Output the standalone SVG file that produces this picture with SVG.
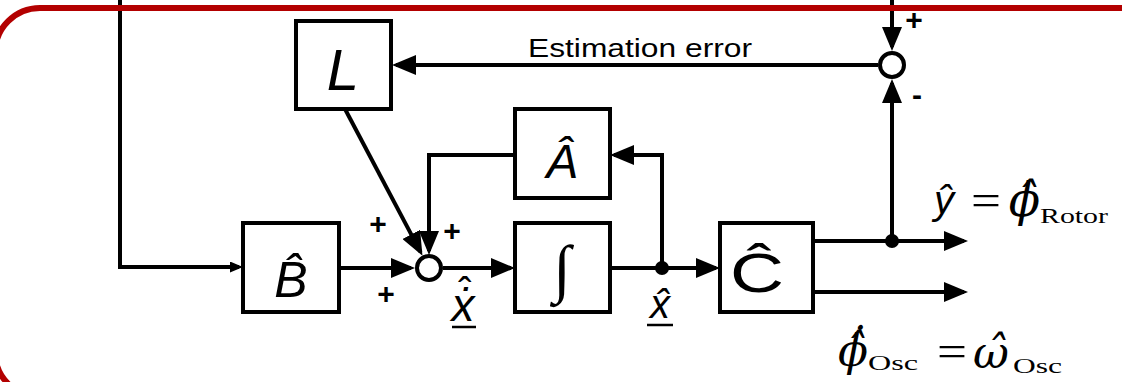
<svg xmlns="http://www.w3.org/2000/svg" width="1122" height="382" viewBox="0 0 1122 382">
  <defs>
    <marker id="arrow" markerUnits="userSpaceOnUse" markerWidth="24" markerHeight="20" refX="20" refY="10" orient="auto">
      <path d="M0,0 L24,10 L0,20 z" fill="#000"/>
    </marker>
    <marker id="arrow-small" markerUnits="userSpaceOnUse" markerWidth="13" markerHeight="11" refX="9" refY="5.5" orient="auto">
      <path d="M0,0 L13,5.5 L0,11 z" fill="#000"/>
    </marker>
  </defs>
  <style>
    .wire { fill: none; stroke: #000; stroke-width: 4; }
    .box { fill: #fff; stroke: #000; stroke-width: 4; }
    .sum { fill: #fff; stroke: #000; stroke-width: 4; }
    .dot { fill: #000; }
    .sans { font-family: "Liberation Sans", Arial, sans-serif; fill: #000; }
    .serif { font-family: "Liberation Serif", "DejaVu Serif", serif; fill: #000; }
    .greek { font-family: "DejaVu Serif", "Liberation Serif", serif; font-style: italic; fill: #000; }
    .ital { font-style: italic; }
    .hat { font-family: "Liberation Sans", Arial, sans-serif; font-style: normal; font-size: 40px; fill: #000; }
    .sign { font-family: "Liberation Sans", Arial, sans-serif; font-weight: bold; font-size: 30px; fill: #000; }
    .ul { stroke: #000; stroke-width: 2.5; }
  </style>

  <rect width="1122" height="382" fill="#fff"/>

  <!-- connectors -->
  <g id="connectors">
    <path class="wire" d="M120,0 V267 H239" marker-end="url(#arrow-small)"/>
    <path class="wire" d="M339,268 H411" marker-end="url(#arrow)"/>
    <path class="wire" d="M443,268 H511" marker-end="url(#arrow)"/>
    <path class="wire" d="M610,268 H716" marker-end="url(#arrow)"/>
    <path class="wire" d="M662,268 V155 H614" marker-end="url(#arrow)"/>
    <path class="wire" d="M515,155 H429 V251" marker-end="url(#arrow)"/>
    <path class="wire" d="M345,109 L420.6,252.1" marker-end="url(#arrow)"/>
    <path class="wire" d="M813,241 H964" marker-end="url(#arrow)"/>
    <path class="wire" d="M813,292 H964" marker-end="url(#arrow)"/>
    <path class="wire" d="M892,241 V83" marker-end="url(#arrow)"/>
    <path class="wire" d="M892,0 V47" marker-end="url(#arrow)"/>
    <path class="wire" d="M878,65 H396" marker-end="url(#arrow)"/>
    <circle class="dot" cx="662" cy="268" r="7"/>
    <circle class="dot" cx="892" cy="241" r="7"/>
    <text class="sans" x="528" y="57" font-size="26" textLength="224" lengthAdjust="spacingAndGlyphs">Estimation error</text>
  </g>

  <!-- observer gain -->
  <g id="node-L">
    <rect class="box" x="296" y="21" width="95" height="88"/>
    <text class="sans ital" x="343" y="90" font-size="58" text-anchor="middle">L</text>
  </g>

  <!-- system matrix estimate -->
  <g id="node-A">
    <rect class="box" x="515" y="109" width="95" height="89"/>
    <text class="sans ital" x="562" y="178" font-size="48" text-anchor="middle">Â</text>
  </g>

  <!-- input matrix estimate -->
  <g id="node-B">
    <rect class="box" x="243" y="223" width="96" height="89"/>
    <text class="sans ital" x="291" y="297" font-size="50" text-anchor="middle">B̂</text>
  </g>

  <!-- integrator -->
  <g id="node-int">
    <rect class="box" x="515" y="223" width="95" height="89"/>
    <text class="serif" x="562" y="290" font-size="64" font-weight="bold" text-anchor="middle">∫</text>
  </g>

  <!-- output matrix estimate -->
  <g id="node-C">
    <rect class="box" x="720" y="223" width="93" height="89"/>
    <text class="sans" x="757" y="292" font-size="56" text-anchor="middle" textLength="54" lengthAdjust="spacingAndGlyphs">Ĉ</text>
  </g>

  <!-- state summing junction -->
  <g id="node-sum-state">
    <circle class="sum" cx="429" cy="268" r="12"/>
    <text class="sign" x="378" y="234" text-anchor="middle">+</text>
    <text class="sign" x="452" y="241" text-anchor="middle">+</text>
    <text class="sign" x="386" y="304" text-anchor="middle">+</text>
  </g>

  <!-- output error junction -->
  <g id="node-sum-error">
    <circle class="sum" cx="892" cy="65" r="12"/>
    <text class="sign" x="914" y="30" font-size="26" text-anchor="middle">+</text>
    <text class="sign" x="917" y="105" text-anchor="middle">-</text>
  </g>

  <!-- state derivative label: hat set above the dotted x -->
  <g id="label-xdot">
    <text class="sans ital" font-size="46" text-anchor="middle"><tspan class="hat" x="465" y="306">ˆ</tspan><tspan x="463" y="321">ẋ</tspan></text>
    <line class="ul" x1="452" y1="327" x2="476" y2="327"/>
  </g>

  <!-- state label -->
  <g id="label-x">
    <text class="sans ital" x="660" y="318" font-size="40" text-anchor="middle">x̂</text>
    <line class="ul" x1="647" y1="325" x2="673" y2="325"/>
  </g>

  <!-- rotor angle output -->
  <g id="label-rotor">
    <text class="sans ital" x="944" y="214" font-size="40" text-anchor="middle">ŷ</text>
    <text class="serif" x="986" y="215" font-size="44" text-anchor="middle" textLength="30" lengthAdjust="spacingAndGlyphs">=</text>
    <text class="greek" x="1040" y="216" font-size="46" text-anchor="end">ϕ̂</text>
    <text class="serif" x="1040" y="223" font-size="22" textLength="68" lengthAdjust="spacingAndGlyphs">Rotor</text>
  </g>

  <!-- oscillation speed output -->
  <g id="label-osc">
    <text class="greek" x="868" y="366" font-size="44" text-anchor="end">ϕ̂̇</text>
    <text class="serif" x="868" y="370" font-size="22" textLength="50" lengthAdjust="spacingAndGlyphs">Osc</text>
    <text class="serif" x="952" y="366" font-size="44" text-anchor="middle" textLength="30" lengthAdjust="spacingAndGlyphs">=</text>
    <text class="greek" x="991" y="368" font-size="44" text-anchor="middle">ω̂</text>
    <text class="serif" x="1013" y="373" font-size="22" textLength="49" lengthAdjust="spacingAndGlyphs">Osc</text>
  </g>

  <!-- frame -->
  <rect x="-5" y="8" width="1200" height="389" rx="45" fill="none" stroke="#b30000" stroke-width="6"/>
</svg>
